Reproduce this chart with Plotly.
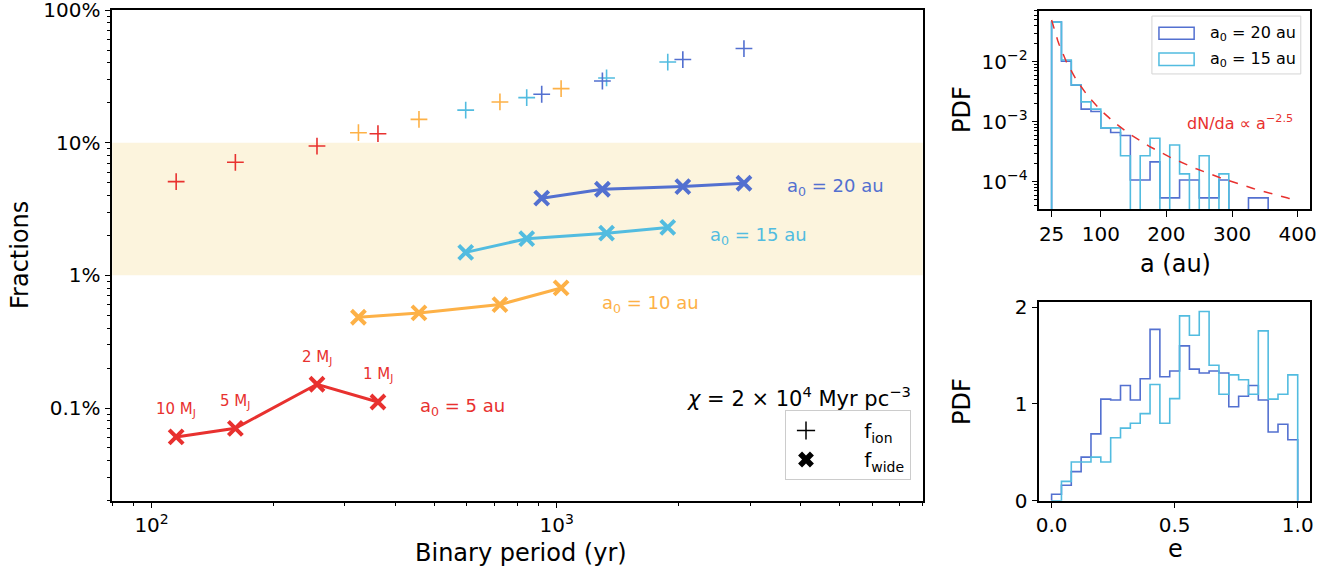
import numpy as np
import plotly.graph_objects as go

# ---------------- data: main panel ----------------
period_5 = [115, 161, 256, 362]
fion_5 = [0.0509, 0.0712, 0.0944, 0.117]
fwide_5 = [0.000605, 0.000703, 0.00151, 0.00111]
mass_labels = ["10 M<sub>J</sub>", "5 M<sub>J</sub>", "2 M<sub>J</sub>", "1 M<sub>J</sub>"]

period_10 = [324, 457, 724, 1025]
fion_10 = [0.119, 0.150, 0.203, 0.256]
fwide_10 = [0.00483, 0.00521, 0.00602, 0.00804]

period_15 = [596, 843, 1327, 1879]
fion_15 = [0.176, 0.219, 0.308, 0.406]
fwide_15 = [0.0149, 0.0189, 0.0208, 0.0230]

period_20 = [918, 1296, 2047, 2897]
fion_20 = [0.232, 0.292, 0.424, 0.513]
fwide_20 = [0.0382, 0.0446, 0.0467, 0.0495]

series_names = ["a<sub>0</sub> = 5 au", "a<sub>0</sub> = 10 au", "a<sub>0</sub> = 15 au", "a<sub>0</sub> = 20 au"]

# ---------------- data: semi-major axis histogram ----------------
a_edges = [25, 40, 55, 70, 85, 100, 115, 130, 145, 160, 175, 190, 205, 220, 235,
           250, 265, 280, 295, 310, 325, 340, 355, 370, 385, 400]
a_pdf_20 = [0.0457, 0.0102, 0.00407, 0.00162, 0.00148, 0.00079, 0.00066, 0.00059,
            0.000107, 0.000107, 0.000214, 0.0000537, 0.0000537, 0.000107, 0.000107,
            0.0000537, 0.0000537, 0.000107, 0, 0, 0.0000537, 0.0000537, 0, 0, 0]
a_pdf_15 = [0.0457, 0.0107, 0.0041, 0.00214, 0.00162, 0.00079, 0.00079, 0.00027,
            0, 0.00027, 0.00053, 0, 0.00041, 0.000135, 0,
            0.00027, 0, 0.000135, 0, 0, 0, 0, 0, 0, 0]
powerlaw_norm = 155.0
powerlaw_index = -2.5

# ---------------- data: eccentricity histogram ----------------
e_edges = [0.00, 0.04, 0.08, 0.12, 0.16, 0.20, 0.24, 0.28, 0.32, 0.36, 0.40, 0.44, 0.48,
           0.52, 0.56, 0.60, 0.64, 0.68, 0.72, 0.76, 0.80, 0.84, 0.88, 0.92, 0.96, 1.00]
e_pdf_20 = [0.066, 0.16, 0.30, 0.45, 0.69, 1.05, 1.04, 1.19, 1.04, 1.26, 1.77, 1.28, 1.34,
            1.60, 1.36, 1.32, 1.34, 1.32, 0.97, 1.08, 1.19, 1.04, 0.71, 0.79, 0.63]
e_pdf_15 = [0.0, 0.20, 0.40, 0.40, 0.45, 0.40, 0.65, 0.75, 0.80, 0.90, 1.20, 0.80, 1.055,
            1.91, 1.71, 1.955, 1.40, 1.10, 1.30, 1.25, 1.10, 1.755, 1.05, 1.10, 1.30]

# ---------------- styles ----------------
RED = "#E8312F"
ORANGE = "#FDB147"
LBLUE = "#52BCE0"
DBLUE = "#5370D0"
colors = [RED, ORANGE, LBLUE, DBLUE]
FONT = "DejaVu Sans"
TICK = 20
TITLE = 24

W, H = 1341, 573


def fx(px):
    return px / W


def fy(py):
    return 1 - py / H


fig = go.Figure()

periods = [period_5, period_10, period_15, period_20]
fions = [fion_5, fion_10, fion_15, fion_20]
fwides = [fwide_5, fwide_10, fwide_15, fwide_20]

for p, fi, fw, c in zip(periods, fions, fwides, colors):
    fig.add_trace(go.Scatter(x=p, y=fi, mode="markers", showlegend=False,
                             marker=dict(symbol="cross-thin", size=12, line=dict(color=c, width=1.6)),
                             xaxis="x", yaxis="y"))
    fig.add_trace(go.Scatter(x=p, y=fw, mode="lines+markers", showlegend=False,
                             line=dict(color=c, width=3),
                             marker=dict(symbol="x-thin", size=14, color=c, line=dict(color=c, width=4)),
                             xaxis="x", yaxis="y"))

# legend entries
fig.add_trace(go.Scatter(x=[None], y=[None], mode="markers", name="      f<sub>ion</sub>",
                         marker=dict(symbol="cross-thin", size=13, line=dict(color="black", width=1.5)),
                         xaxis="x", yaxis="y"))
fig.add_trace(go.Scatter(x=[None], y=[None], mode="markers", name="      f<sub>wide</sub>",
                         marker=dict(symbol="x", size=14, color="black", line=dict(width=0)),
                         xaxis="x", yaxis="y"))


def step_xy(edges, vals, floor):
    xs = [edges[0]] + list(edges[:-1]) + [edges[-1]]
    ys = [floor] + [v if v > 0 else floor for v in vals] + [floor]
    return xs, ys


LOG_FLOOR = 1e-6
for vals, c in [(a_pdf_20, DBLUE), (a_pdf_15, LBLUE)]:
    xs, ys = step_xy(a_edges, vals, LOG_FLOOR)
    fig.add_trace(go.Scatter(x=xs, y=ys, mode="lines", line=dict(color=c, width=1.6, shape="hv"),
                             showlegend=False, xaxis="x2", yaxis="y2"))

a_curve = np.linspace(a_edges[0], a_edges[-1], 200)
fig.add_trace(go.Scatter(x=a_curve, y=powerlaw_norm * a_curve ** powerlaw_index, mode="lines",
                         line=dict(color=RED, width=1.5, dash="dash"), showlegend=False,
                         xaxis="x2", yaxis="y2"))

for vals, c in [(e_pdf_20, DBLUE), (e_pdf_15, LBLUE)]:
    xs, ys = step_xy(e_edges, vals, 0.0)
    fig.add_trace(go.Scatter(x=xs, y=ys, mode="lines", line=dict(color=c, width=1.6, shape="hv"),
                             showlegend=False, xaxis="x3", yaxis="y3"))

# ---------------- axes ----------------
main_x = [fx(112.3), fx(922.7)]
main_y = [fy(500.7), fy(10.0)]
side_x = [fx(1039.3), fx(1310.0)]
top_y = [fy(209.0), fy(10.7)]
bot_y = [fy(500.7), fy(302.3)]

axis_common = dict(showline=True, linecolor="black", linewidth=1.5, mirror=True,
                   ticks="outside", ticklen=6, tickwidth=1.3, tickcolor="black",
                   showgrid=False, zeroline=False, automargin=False,
                   ticklabeloverflow="allow",
                   tickfont=dict(family=FONT, size=TICK, color="black"))


def minor_log(lo_exp, hi_exp, lo, hi):
    vals = []
    for e in range(lo_exp, hi_exp + 1):
        for m in range(2, 10):
            v = m * 10.0 ** e
            if lo <= v <= hi:
                vals.append(v)
    return vals


fig.update_layout(
    xaxis=dict(axis_common, type="log", domain=main_x, anchor="y",
               range=[np.log10(80), np.log10(8000)],
               tickmode="array", tickvals=[100, 1000], ticktext=["10<sup>2</sup>", "10<sup>3</sup>"],
               minor=dict(ticks="outside", ticklen=3.5, tickcolor="black", tickwidth=1,
                          tickmode="array", tickvals=minor_log(1, 3, 80, 8000))),
    yaxis=dict(axis_common, type="log", domain=main_y, anchor="x",
               range=[np.log10(2e-4), 0.0008],
               tickmode="array", tickvals=[1e-3, 1e-2, 1e-1, 1],
               ticktext=["0.1%", "1%", "10%", "100%"],
               minor=dict(ticks="outside", ticklen=3.5, tickcolor="black", tickwidth=1,
                          tickmode="array", tickvals=minor_log(-4, -1, 2e-4, 1))),
    xaxis2=dict(axis_common, domain=side_x, anchor="y2", range=[6.25, 418.75],
                tickmode="array", tickvals=[25, 100, 200, 300, 400]),
    yaxis2=dict(axis_common, type="log", domain=top_y, anchor="x2", range=[-4.455, -1.15],
                tickmode="array", tickvals=[1e-4, 1e-3, 1e-2],
                ticktext=["10<sup>\u22124</sup>", "10<sup>\u22123</sup>", "10<sup>\u22122</sup>"],
                minor=dict(ticks="outside", ticklen=3.5, tickcolor="black", tickwidth=1,
                           tickmode="array", tickvals=minor_log(-5, -2, 3.5e-5, 0.0708))),
    xaxis3=dict(axis_common, domain=side_x, anchor="y3", range=[-0.05, 1.05],
                tickmode="array", tickvals=[0, 0.5, 1.0], ticktext=["0.0", "0.5", "1.0"]),
    yaxis3=dict(axis_common, domain=bot_y, anchor="x3", range=[0, 2.05],
                tickmode="array", tickvals=[0, 1, 2]),
)

# shaded band 1%-10%
fig.add_shape(type="rect", xref="x domain", yref="y", x0=0, x1=1, y0=0.01, y1=0.1,
              fillcolor="#FCF4DD", line=dict(width=0), layer="below")

annotations = []
# series labels next to the last f_wide point
label_shifts = [(40, -5), (39, -16), (40, -9), (41, -4)]
for p, fw, name, c, (dx, dy) in zip(periods, fwides, series_names, colors, label_shifts):
    annotations.append(dict(x=np.log10(p[-1]), y=np.log10(fw[-1]), xref="x", yref="y",
                            text=name, showarrow=False, xanchor="left", yanchor="middle",
                            xshift=dx, yshift=dy, font=dict(family=FONT, size=18, color=c)))
# mass labels above a0 = 5 au points
for p, fw, t in zip(period_5, fwide_5, mass_labels):
    annotations.append(dict(x=np.log10(p), y=np.log10(fw), xref="x", yref="y", text=t,
                            showarrow=False, xanchor="center", yanchor="middle", yshift=27,
                            font=dict(family=FONT, size=15, color=RED)))
# chi text
annotations.append(dict(x=0.988, y=0.211, xref="x domain", yref="y domain",
                        text="<i>\u03c7</i> = 2 \u00d7 10<sup>4</sup> Myr pc<sup>\u22123</sup>",
                        showarrow=False, xanchor="right", yanchor="middle",
                        font=dict(family=FONT, size=21, color="black")))
# power-law label
annotations.append(dict(x=0.539, y=0.434, xref="x2 domain", yref="y2 domain",
                        text="dN/da \u221d a<sup>\u22122.5</sup>", showarrow=False,
                        xanchor="left", yanchor="middle", font=dict(family=FONT, size=16, color=RED)))
# histogram legend (manual)
fig.add_shape(type="rect", xref="x2 domain", yref="y2 domain", x0=0.416, x1=0.966, y0=0.681, y1=0.973,
              fillcolor="white", line=dict(color="#d0d0d0", width=1), opacity=0.9)
for (y0, y1, yc, c, t) in [(0.856, 0.916, 0.886, DBLUE, "a<sub>0</sub> = 20 au"),
                           (0.724, 0.787, 0.754, LBLUE, "a<sub>0</sub> = 15 au")]:
    fig.add_shape(type="rect", xref="x2 domain", yref="y2 domain", x0=0.442, x1=0.572, y0=y0, y1=y1,
                  fillcolor="rgba(0,0,0,0)", line=dict(color=c, width=1.5))
    annotations.append(dict(x=0.623, y=yc, xref="x2 domain", yref="y2 domain", text=t,
                            showarrow=False, xanchor="left", yanchor="middle",
                            font=dict(family=FONT, size=16, color="black")))
# axis titles
title_font = dict(family=FONT, size=TITLE, color="black")
ctr = dict(showarrow=False, xanchor="center", yanchor="middle", xref="paper", yref="paper", font=title_font)
annotations += [
    dict(ctr, x=fx(521), y=fy(553), text="Binary period (yr)"),
    dict(ctr, x=fx(20), y=fy(255), text="Fractions", textangle=-90),
    dict(ctr, x=fx(1175), y=fy(264), text="a (au)"),
    dict(ctr, x=fx(962), y=fy(110), text="PDF", textangle=-90),
    dict(ctr, x=fx(1175), y=fy(549), text="e"),
    dict(ctr, x=fx(962), y=fy(402), text="PDF", textangle=-90),
]

fig.update_layout(
    width=W, height=H, margin=dict(l=0, r=0, t=0, b=0, autoexpand=False),
    paper_bgcolor="white", plot_bgcolor="white",
    font=dict(family=FONT, size=16, color="black"),
    annotations=annotations,
    legend=dict(x=fx(911), y=fy(410), xanchor="right", yanchor="top",
                bgcolor="white", bordercolor="#cccccc", borderwidth=1,
                font=dict(family=FONT, size=20, color="black"),
                itemwidth=30),
)

fig.write_html("out.html", config={"displayModeBar": False},
               post_script="document.body.style.margin='0px';document.body.style.overflow='hidden';")
